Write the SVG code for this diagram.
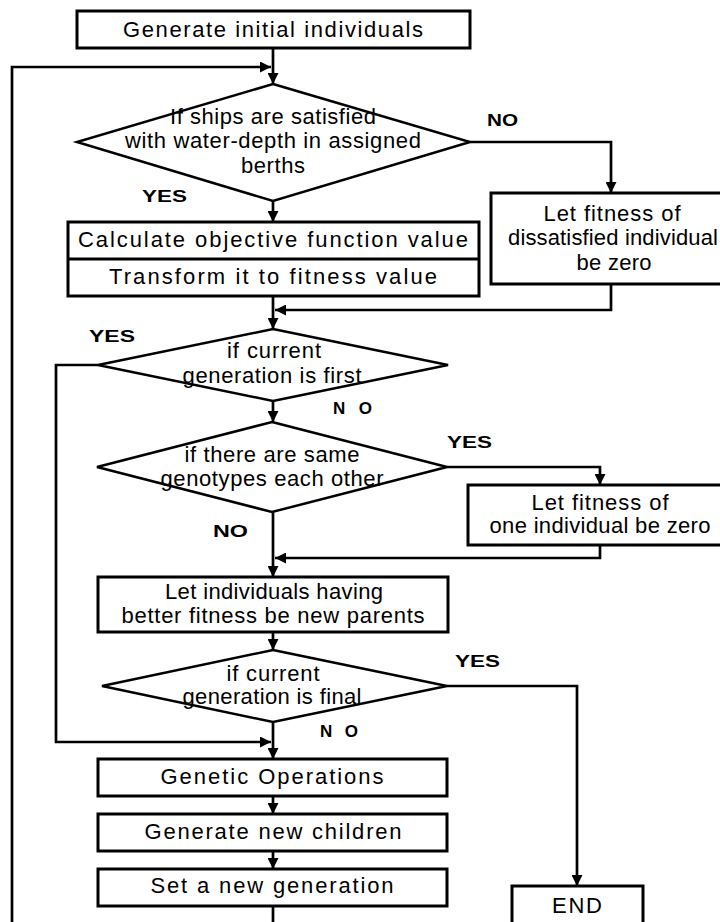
<svg xmlns="http://www.w3.org/2000/svg" width="720" height="922" viewBox="0 0 720 922">
<style>
.box{fill:#fff;stroke:#000;stroke-width:3}
.dia{fill:#fff;stroke:#000;stroke-width:2.5}
.ln{fill:none;stroke:#000;stroke-width:2.7}
.t{font-family:"Liberation Sans",Arial,sans-serif;font-size:22px;fill:#000;text-anchor:middle}
.lb{font-family:"Liberation Sans",Arial,sans-serif;font-size:17px;font-weight:bold;fill:#000}
</style>
<defs>
<marker id="ah" markerUnits="userSpaceOnUse" markerWidth="11" markerHeight="11" refX="10" refY="5" orient="auto" viewBox="0 0 10 10">
<path d="M0,0 L10,5 L0,10 z" fill="#000"/>
</marker>
</defs>
<g id="connectors">
<path class="ln" d="M273,48 V84" marker-end="url(#ah)"/>
<path class="ln" d="M273,906 V925"/>
<path class="ln" d="M12,925 V67 H271" marker-end="url(#ah)"/>
<path class="ln" d="M273,201 V222" marker-end="url(#ah)"/>
<path class="ln" d="M470,142 H611 V193" marker-end="url(#ah)"/>
<path class="ln" d="M611,284 V310 H275" marker-end="url(#ah)"/>
<path class="ln" d="M273,296 V329" marker-end="url(#ah)"/>
<path class="ln" d="M273,401 V422" marker-end="url(#ah)"/>
<path class="ln" d="M98,365 H56 V742 H271" marker-end="url(#ah)"/>
<path class="ln" d="M447,467 H600 V485" marker-end="url(#ah)"/>
<path class="ln" d="M600,545 V558 H275" marker-end="url(#ah)"/>
<path class="ln" d="M273,512 V577" marker-end="url(#ah)"/>
<path class="ln" d="M273,632 V650" marker-end="url(#ah)"/>
<path class="ln" d="M273,722 V759" marker-end="url(#ah)"/>
<path class="ln" d="M447,686 H577 V886" marker-end="url(#ah)"/>
<path class="ln" d="M273,796 V814" marker-end="url(#ah)"/>
<path class="ln" d="M273,851 V869" marker-end="url(#ah)"/>
</g>
<g id="labels">
<text class="lb" x="142" y="202" textLength="45" lengthAdjust="spacingAndGlyphs">YES</text>
<text class="lb" x="487" y="126" textLength="31" lengthAdjust="spacingAndGlyphs">NO</text>
<text class="lb" x="89" y="342" textLength="46" lengthAdjust="spacingAndGlyphs">YES</text>
<text class="lb" x="333" y="414" textLength="39" lengthAdjust="spacing">N O</text>
<text class="lb" x="447" y="448" textLength="45" lengthAdjust="spacingAndGlyphs">YES</text>
<text class="lb" x="213" y="537" textLength="35" lengthAdjust="spacingAndGlyphs">NO</text>
<text class="lb" x="455" y="667" textLength="45" lengthAdjust="spacingAndGlyphs">YES</text>
<text class="lb" x="320" y="737" textLength="38" lengthAdjust="spacing">N O</text>
</g>
<g id="n_init">
<rect class="box" x="77" y="11" width="393" height="37"/>
<text class="t" x="273" y="37" textLength="300">Generate initial individuals</text>
</g>
<g id="d_depth">
<polygon class="dia" points="273,84 470,142 273,201 77,142"/>
<text class="t" x="273" y="124" textLength="206">If ships are satisfied</text>
<text class="t" x="273" y="148" textLength="296">with water-depth in assigned</text>
<text class="t" x="273" y="173" textLength="64">berths</text>
</g>
<g id="n_calc">
<rect class="box" x="68" y="222" width="411" height="74"/>
<line class="ln" x1="68" y1="259" x2="479" y2="259" style="stroke-width:3"/>
<text class="t" x="273" y="247" textLength="390">Calculate objective function value</text>
<text class="t" x="273" y="284" textLength="328">Transform it to fitness value</text>
</g>
<g id="n_dissat">
<rect class="box" x="491" y="193" width="240" height="91"/>
<text class="t" x="612" y="221" textLength="137">Let fitness of</text>
<text class="t" x="613" y="245" textLength="210">dissatisfied individual</text>
<text class="t" x="614" y="270" textLength="75">be zero</text>
</g>
<g id="d_first">
<polygon class="dia" points="273,329 448,365 273,401 98,365"/>
<text class="t" x="274" y="358" textLength="94">if current</text>
<text class="t" x="272" y="383" textLength="179">generation is first</text>
</g>
<g id="d_same">
<polygon class="dia" points="272,422 447,467 272,512 97,467"/>
<text class="t" x="272" y="462" textLength="175">if there are same</text>
<text class="t" x="272" y="486" textLength="223">genotypes each other</text>
</g>
<g id="n_onezero">
<rect class="box" x="468" y="485" width="262" height="60"/>
<text class="t" x="600" y="510" textLength="137">Let fitness of</text>
<text class="t" x="600" y="533" textLength="221">one individual be zero</text>
</g>
<g id="n_parents">
<rect class="box" x="98" y="577" width="350" height="55"/>
<text class="t" x="274" y="599" textLength="218">Let individuals having</text>
<text class="t" x="273" y="623" textLength="303">better fitness be new parents</text>
</g>
<g id="d_final">
<polygon class="dia" points="273,650 447,686 273,722 102,686"/>
<text class="t" x="273" y="681" textLength="93">if current</text>
<text class="t" x="272" y="704" textLength="179">generation is final</text>
</g>
<g id="n_genetic">
<rect class="box" x="98" y="759" width="349" height="37"/>
<text class="t" x="272" y="784" textLength="223">Genetic Operations</text>
</g>
<g id="n_children">
<rect class="box" x="98" y="814" width="349" height="37"/>
<text class="t" x="273" y="839" textLength="257">Generate new children</text>
</g>
<g id="n_setgen">
<rect class="box" x="98" y="869" width="349" height="37"/>
<text class="t" x="272" y="893" textLength="243">Set a new generation</text>
</g>
<g id="n_end">
<rect class="box" x="512" y="886" width="131" height="44"/>
<text class="t" x="577" y="913" textLength="50">END</text>
</g>
</svg>
